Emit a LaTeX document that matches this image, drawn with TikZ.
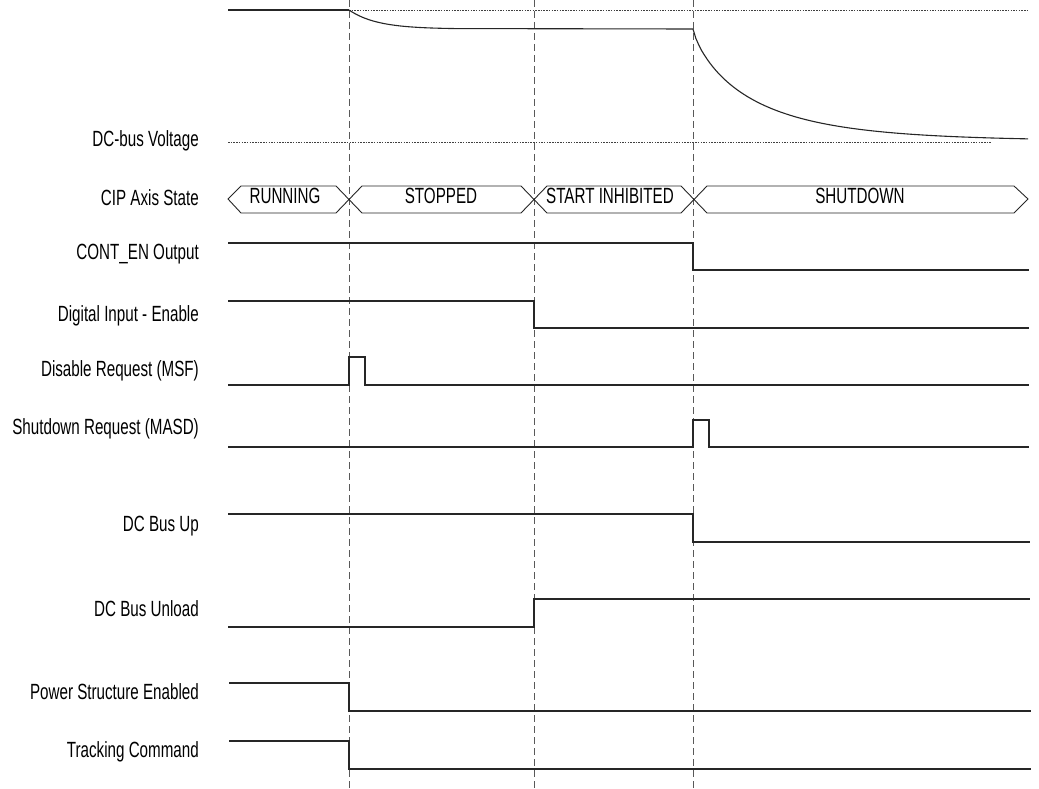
\documentclass[tikz,border=0pt]{standalone}
\usepackage{fontspec}
\setmainfont{Liberation Sans}[FakeStretch=0.69]
\usetikzlibrary{positioning}

\begin{document}
\begin{tikzpicture}[
    x=1pt, y=-1pt,
    font=\fontsize{22}{26}\selectfont,
    signal/.style={draw=black!85, line width=1.1pt},
    edgeline/.style={draw=black!65, line width=0.9pt, dash pattern=on 7pt off 4pt},
    refline/.style={draw=black!75, line width=0.7pt, dash pattern=on 1.5pt off 1.2pt},
    siglabel/.style={anchor=base east, inner sep=0pt},
    buslabel/.style={anchor=base, inner sep=0pt}
]
\useasboundingbox (0,0) rectangle (1039,789);

% signal names
\node[siglabel] (vbus)   at (199,147) {DC-bus Voltage};
\node[siglabel] (state)  at (199,205) {CIP Axis State};
\node[siglabel] (conten) at (199,259) {CONT\_EN Output};
\node[siglabel] (dien)   at (199,321) {Digital Input - Enable};
\node[siglabel] (dreq)   at (199,376) {Disable Request (MSF)};
\node[siglabel] (sreq)   at (199,434) {Shutdown Request (MASD)};
\node[siglabel] (busup)  at (199,531) {DC Bus Up};
\node[siglabel] (busunl) at (199,616) {DC Bus Unload};
\node[siglabel] (pse)    at (199,699) {Power Structure Enabled};
\node[siglabel] (track)  at (199,757) {Tracking Command};

% event markers
\foreach \t in {349,534,693}
    \draw[edgeline] (\t,0) -- (\t,789);

% DC-bus voltage
\draw[refline] (349,10) -- (1029,10);
\draw[refline] (228,142) -- (991,142);
\draw[signal] (228,10) -- (349,10);
\draw[signal] plot[domain=0:106, samples=40] ({349+\x},{29-19*exp(-\x/28)}) -- (693,29);
\draw[signal] plot[domain=0:335, samples=120] ({693+\x},{141-112*exp(-pow(\x/60,0.8))});

% axis state bus
\draw[signal, line width=0.9pt] (228,199) -- (241,186) -- (336,186) -- (362,213) -- (521,213)
    -- (547,186) -- (681,186) -- (707,213) -- (1014,213) -- (1028,199) -- (1014,186)
    -- (707,186) -- (681,213) -- (547,213) -- (521,186) -- (362,186) -- (336,213)
    -- (241,213) -- cycle;
\node[buslabel] (running) at (285,203) {RUNNING};
\node[buslabel] (stopped) at (441,203) {STOPPED};
\node[buslabel] (inhib)   at (610,203) {START INHIBITED};
\node[buslabel] (shutdn)  at (860,203) {SHUTDOWN};

% digital signals
\draw[signal] (228,243) -- (693,243) -- (693,270) -- (1029,270);
\draw[signal] (228,301) -- (534,301) -- (534,328) -- (1029,328);
\draw[signal] (228,385) -- (349,385) -- (349,357) -- (365,357) -- (365,385) -- (1029,385);
\draw[signal] (228,447) -- (693,447) -- (693,420) -- (709,420) -- (709,447) -- (1029,447);
\draw[signal] (228,514) -- (693,514) -- (693,542) -- (1030,542);
\draw[signal] (228,627) -- (534,627) -- (534,599) -- (1030,599);
\draw[signal] (229,683) -- (349,683) -- (349,711) -- (1031,711);
\draw[signal] (229,741) -- (349,741) -- (349,769) -- (1031,769);
\end{tikzpicture}
\end{document}
